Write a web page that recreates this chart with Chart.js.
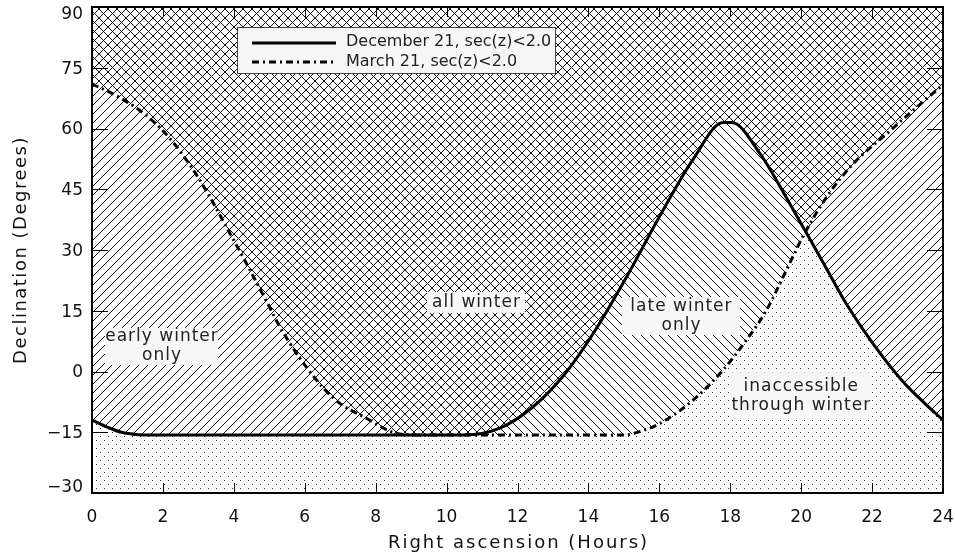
<!DOCTYPE html>
<html><head><meta charset="utf-8">
<script src="https://cdn.jsdelivr.net/npm/chart.js@4.4.1/dist/chart.umd.min.js"></script>
<style>html,body{margin:0;padding:0;background:#fff;}#wrap{width:955px;height:554px;position:relative;}</style>
</head><body><div id="wrap"><canvas id="c" width="955" height="554"></canvas></div>
<script>
// ---- data ----
const decRA  = [0, 0.45, 0.83, 1.3, 1.6, 2, 4, 6, 8, 10, 10.5, 11.5, 12.44, 13.3, 14.18, 15.08, 16.02, 16.96, 17.8, 18.04, 18.84, 19.68, 20.11, 20.72, 21.28, 22.03, 22.88, 23.5, 24];
const decDec = [-12, -13.8, -15.0, -15.6, -15.7, -15.7, -15.7, -15.7, -15.7, -15.7, -15.7, -14.0, -8.7, -1.0, 10.0, 23.4, 38.5, 52.5, 61.5, 61.5, 53.8, 41.4, 34.8, 25.3, 16.6, 6.8, -2.6, -8.0, -12];
const marRA  = [0, 0.83, 1.58, 2.24, 2.8, 3.27, 3.74, 4.31, 4.96, 5.25, 5.87, 6.81, 7.75, 8.59, 9.2, 10, 12, 14, 15, 15.27, 16.02, 16.96, 17.8, 18.46, 19.02, 19.45, 20.06, 20.72, 21.47, 22.41, 23.16, 24];
const marDec = [71, 67.4, 62.9, 57.1, 50.5, 43.9, 36.5, 27.4, 16.7, 11.8, 3.2, -6.6, -11.6, -15.3, -15.7, -15.7, -15.7, -15.7, -15.7, -15.3, -12.8, -7.0, 0.4, 7.8, 15.1, 22.6, 33.5, 43.1, 51.3, 58.7, 64.5, 70.8];
const xTicks = [0, 2, 4, 6, 8, 10, 12, 14, 16, 18, 20, 22, 24];
const yTicks = [-30, -15, 0, 15, 30, 45, 60, 75, 90];
const seriesNames = ['December 21, sec(z)<2.0', 'March 21, sec(z)<2.0'];
const xTitle = 'Right ascension (Hours)';
const yTitle = 'Declination (Degrees)';
const regionText = [['early winter', 'only'], ['all winter'], ['late winter', 'only'], ['inaccessible', 'through winter']];
const regionRA  = [1.96, 10.83, 16.61, 19.99];
const regionDec = [6.2, 17.06, 13.7, -6.0];

// ---- patterns ----
function makeTile(w, h, draw) {
  const c = document.createElement('canvas'); c.width = w; c.height = h;
  const g = c.getContext('2d'); draw(g, w, h);
  return document.createElement('canvas').getContext('2d').createPattern(c, 'repeat');
}
const P = 9;
const slashPat = makeTile(P, P, (g, w) => { g.fillStyle = '#111'; for (let i = 0; i < w; i++) g.fillRect(i, w - 1 - i, 1, 1); });
const backPat  = makeTile(P, P, (g, w) => { g.fillStyle = '#111'; for (let i = 0; i < w; i++) g.fillRect(i, i, 1, 1); });
const dotPat   = makeTile(8, 8, (g) => { g.fillStyle = '#333'; g.fillRect(0, 0, 1, 1); g.fillRect(4, 4, 1, 1); });

const FONT = "'DejaVu Sans', sans-serif";
const minus = v => String(v).replace('-', '\u2212');

const overlay = {
  id: 'overlay',
  beforeDraw(chart) {
    // nudge y tick labels inward at the ends, like the reference
    const y = chart.scales.y;
    const items = y.getLabelItems(chart.chartArea);
    items.forEach((it, i) => {
      const v = y.ticks[i] && y.ticks[i].value;
      const d = v === 90 ? 8 : (v === -30 ? -5 : 1.5);
      it.options.translation[1] += d;
    });
  },
  beforeDatasetsDraw(chart) {
    const { ctx, chartArea: a } = chart;
    ctx.save();
    ctx.beginPath(); ctx.rect(a.left, a.top, a.right - a.left, a.bottom - a.top); ctx.clip();
    [0, 1].forEach(i => {
      const line = chart.getDatasetMeta(i).dataset;
      line.updateControlPoints(a, 'x');
      ctx.beginPath();
      line.path(ctx);
      ctx.lineTo(a.right + 5, a.bottom + 5);
      ctx.lineTo(a.left - 5, a.bottom + 5);
      ctx.closePath();
      ctx.clip();
    });
    ctx.fillStyle = dotPat;
    ctx.fillRect(a.left, a.top, a.right - a.left, a.bottom - a.top);
    ctx.restore();
  },
  afterDatasetsDraw(chart) {
    const { ctx, chartArea: a, scales: { x, y } } = chart;
    ctx.save();
    // region labels
    const boxes = [[113, 37], [98, 21], [118, 38], [142, 47]];
    ctx.font = '17px ' + FONT;
    ctx.textAlign = 'center'; ctx.textBaseline = 'middle';
    regionText.forEach((lines, k) => {
      const cx = x.getPixelForValue(regionRA[k]);
      const cy = y.getPixelForValue(regionDec[k]);
      const [bw, bh] = boxes[k];
      ctx.fillStyle = '#f7f7f7';
      ctx.fillRect(cx - bw / 2, cy - bh / 2, bw, bh);
      ctx.fillStyle = '#222';
      ctx.letterSpacing = '1px';
      const lh = 19;
      lines.forEach((t, j) => {
        ctx.fillText(t, cx + 0.5, cy + (j - (lines.length - 1) / 2) * lh);
      });
      ctx.letterSpacing = '0px';
    });
    // legend
    ctx.fillStyle = '#f6f6f6';
    ctx.fillRect(237, 27, 318, 46);
    ctx.strokeStyle = '#444'; ctx.lineWidth = 1;
    ctx.strokeRect(237.5, 27.5, 318, 46);
    ctx.strokeStyle = '#000'; ctx.lineWidth = 3;
    ctx.beginPath(); ctx.moveTo(252, 43); ctx.lineTo(336, 43); ctx.stroke();
    ctx.setLineDash([7, 4, 2, 4]);
    ctx.beginPath(); ctx.moveTo(252, 62); ctx.lineTo(336, 62); ctx.stroke();
    ctx.setLineDash([]);
    ctx.fillStyle = '#222'; ctx.font = '16px ' + FONT;
    ctx.textAlign = 'left'; ctx.textBaseline = 'middle';
    ctx.fillText(seriesNames[0], 346, 42);
    ctx.fillText(seriesNames[1], 346, 62);
    // frame and ticks
    ctx.strokeStyle = '#000'; ctx.lineWidth = 2;
    ctx.strokeRect(a.left, a.top, a.right - a.left, a.bottom - a.top);
    ctx.lineWidth = 1;
    ctx.beginPath();
    xTicks.forEach(v => {
      const px = Math.round(x.getPixelForValue(v)) + 0.5;
      ctx.moveTo(px, a.bottom); ctx.lineTo(px, a.bottom - 10);
      ctx.moveTo(px, a.top); ctx.lineTo(px, a.top + 10);
    });
    yTicks.forEach(v => {
      const py = Math.round(y.getPixelForValue(v)) + 0.5;
      ctx.moveTo(a.left, py); ctx.lineTo(a.left + 16, py);
      ctx.moveTo(a.right, py); ctx.lineTo(a.right - 16, py);
    });
    ctx.stroke();
    ctx.restore();
  },
  afterDraw(chart) {
    const { ctx, chartArea: a } = chart;
    ctx.save();
    ctx.fillStyle = '#111';
    ctx.font = '18px ' + FONT;
    ctx.textAlign = 'center'; ctx.textBaseline = 'middle';
    ctx.letterSpacing = '2px';
    ctx.fillText(xTitle, (a.left + a.right) / 2 + 1, 543);
    ctx.letterSpacing = '1.5px';
    ctx.translate(21, 250);
    ctx.rotate(-Math.PI / 2);
    ctx.fillText(yTitle, 0, 0);
    ctx.restore();
  }
};

new Chart(document.getElementById('c'), {
  type: 'line',
  data: {
    datasets: [
      { label: seriesNames[0], data: decRA.map((r, i) => ({ x: r, y: decDec[i] })),
        borderColor: '#000', borderWidth: 3, pointRadius: 0, cubicInterpolationMode: 'monotone',
        fill: 'end', backgroundColor: slashPat },
      { label: seriesNames[1], data: marRA.map((r, i) => ({ x: r, y: marDec[i] })),
        borderColor: '#000', borderWidth: 3, borderDash: [7, 4, 2, 4], pointRadius: 0, cubicInterpolationMode: 'monotone',
        fill: 'end', backgroundColor: backPat }
    ]
  },
  options: {
    responsive: false, animation: false, devicePixelRatio: 1,
    layout: { padding: { left: 0, right: 12, top: 7, bottom: 0 } },
    plugins: { legend: { display: false }, tooltip: { enabled: false } },
    scales: {
      x: { type: 'linear', min: 0, max: 24,
        afterBuildTicks: s => { s.ticks = xTicks.map(v => ({ value: v })); },
        afterFit: s => { s.height = 61; s.paddingLeft = 0; s.paddingRight = 0; },
        grid: { display: false, drawTicks: false }, border: { display: false },
        ticks: { padding: 14, color: '#111', font: { family: FONT, size: 17 }, maxRotation: 0, autoSkip: false } },
      y: { type: 'linear', min: -30, max: 90,
        afterBuildTicks: s => { s.ticks = yTicks.map(v => ({ value: v })); },
        afterFit: s => { s.width = 92; s.paddingTop = 0; s.paddingBottom = 0; },
        grid: { display: false, drawTicks: false }, border: { display: false },
        ticks: { padding: 9, color: '#111', font: { family: FONT, size: 17 }, autoSkip: false, callback: v => minus(v) } }
    }
  },
  plugins: [overlay]
});
</script></body></html>
